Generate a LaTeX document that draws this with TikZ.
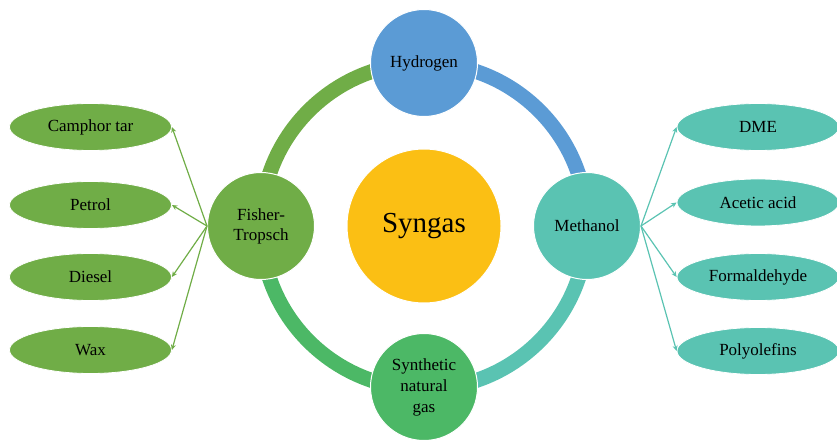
\documentclass[tikz,border=0pt]{standalone}
\usepackage{fontspec}
\setmainfont{Liberation Serif}
\usetikzlibrary{shapes.geometric,arrows.meta}
\definecolor{cft}{HTML}{70AD47}
\definecolor{chy}{HTML}{5B9BD5}
\definecolor{cme}{HTML}{5AC3B2}
\definecolor{csn}{HTML}{4CB866}
\definecolor{csy}{HTML}{FBBF14}
\tikzset{
  hub/.style={circle, minimum size=107pt, inner sep=0pt, draw=white, line width=1pt, align=center, font=\fontsize{17}{20}\selectfont, text=black},
  prod/.style={ellipse, minimum width=162pt, minimum height=47pt, inner sep=0pt, draw=white, line width=0.8pt, font=\fontsize{17}{18}\selectfont, text=black},
  ringarc/.style={line width=15pt},
  outarrow/.style={line width=1.2pt, -{Stealth[length=5.5pt,width=5pt]}}
}
\begin{document}
\begin{tikzpicture}[x=1pt,y=1pt]
\clip (0,0) rectangle (837,439);
\useasboundingbox (0,0) rectangle (837,439);
% ring arcs
\coordinate (ringW) at (261,213);
\coordinate (ringN) at (424,376);
\coordinate (ringE) at (587,213);
\coordinate (ringS) at (424,50);
\draw[ringarc, cft] (ringW) arc[start angle=180, end angle=90, radius=163];
\draw[ringarc, chy] (ringN) arc[start angle=90, end angle=0, radius=163];
\draw[ringarc, cme] (ringE) arc[start angle=0, end angle=-90, radius=163];
\draw[ringarc, csn] (ringS) arc[start angle=-90, end angle=-180, radius=163];
% central
\node[hub, fill=csy, minimum size=154pt, font=\fontsize{29}{30}\selectfont] (syn) at (424,213) {Syngas};
\node[hub, fill=chy] (hyd) at (ringN) {Hydrogen};
\node[hub, fill=cft] (ft) at (ringW) {Fisher-\\Tropsch};
\node[hub, fill=cme] (meth) at (ringE) {Methanol};
\node[hub, fill=csn, font=\fontsize{17}{21}\selectfont] (sng) at (424,52) {Synthetic\\natural\\gas};
% left products
\node[prod, fill=cft] (camphor) at (90.5,312) {Camphor tar};
\node[prod, fill=cft] (petrol) at (90.5,234) {Petrol};
\node[prod, fill=cft] (diesel) at (90.5,162) {Diesel};
\node[prod, fill=cft] (wax) at (90.5,89) {Wax};
% right products
\node[prod, fill=cme] (dme) at (758,312) {DME};
\node[prod, fill=cme] (acetic) at (758,236.5) {Acetic acid};
\node[prod, fill=cme] (formal) at (758,162) {Formaldehyde};
\node[prod, fill=cme] (poly) at (758,88) {Polyolefins};
% arrows
\foreach \t in {camphor,petrol,diesel,wax}
  \draw[outarrow, cft] (ft.west) -- (\t.east);
\foreach \t in {dme,acetic,formal,poly}
  \draw[outarrow, cme] (meth.east) -- (\t.west);
\end{tikzpicture}
\end{document}
